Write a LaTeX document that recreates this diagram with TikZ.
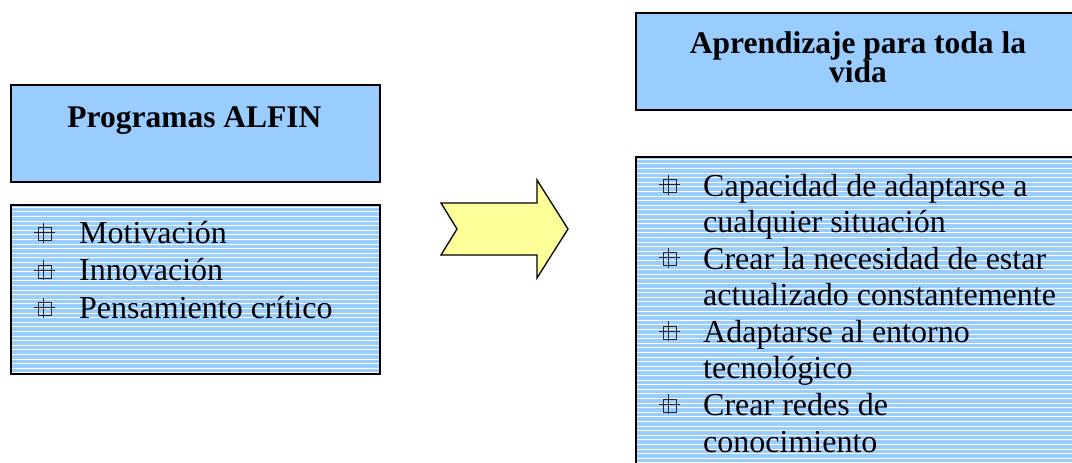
\documentclass[tikz,border=0pt]{standalone}
\usepackage{fontspec}
\setmainfont{Liberation Serif}
\definecolor{boxblue}{HTML}{99CCFF}
\definecolor{arrowyellow}{HTML}{FFFF99}
\tikzset{
  plainbox/.style={draw=black, line width=1.5pt, fill=boxblue, inner sep=0pt, anchor=north west},
  stripebox/.style={plainbox, path picture={
      \foreach \i in {0,...,80}
        \fill[white] ([yshift={-2pt-\i*4.6pt}]path picture bounding box.north west) rectangle ++(600pt,-1.1pt);
    }},
  titletext/.style={font=\fontsize{31.5}{29}\selectfont\bfseries, inner sep=0pt, anchor=base},
  itemtext/.style={font=\fontsize{32}{36}\selectfont, inner sep=0pt, anchor=base west},
  bul/.pic={
    \draw[line width=0.9pt, black!85] (-6.5pt,-6.5pt) rectangle (6.5pt,6.5pt);
    \draw[line width=0.9pt, black!85] (-11pt,1.5pt) -- (10pt,1.5pt);
    \draw[line width=0.9pt, black!85] (-1.5pt,-8.5pt) -- (-1.5pt,11.5pt);
  },
  bigarrow/.style={draw=black, line width=1.3pt, fill=arrowyellow, line join=miter}
}
\begin{document}
\begin{tikzpicture}[x=1pt,y=-1pt]
\useasboundingbox (0,0) rectangle (1072,463);
\clip (0,0) rectangle (1072,463);

% left boxes
\node[plainbox, minimum width=369pt, minimum height=97pt] (ltitle) at (10,84) {};
\node[stripebox, minimum width=369pt, minimum height=169pt] (llist) at (10,204) {};

% right boxes
\node[plainbox, minimum width=446pt, minimum height=97pt] (rtitle) at (635,12) {};
\node[stripebox, minimum width=446pt, minimum height=330pt] (rlist) at (635,156) {};

% arrow
\draw[bigarrow] (441,203) -- (537,203) -- (537,180) -- (568,229) -- (537,278) -- (537,255) -- (441,255) -- (457,229) -- cycle;

% titles
\node[titletext] (lt1) at (194.5,127) {Programas ALFIN};
\node[titletext] (rt1) at (858,53) {Aprendizaje para toda la};
\node[titletext] (rt2) at (858,82) {vida};

% left items
\pic at (45.3,234) {bul};
\node[itemtext] (l1) at (79,243) {Motivación};
\pic at (45.3,271.5) {bul};
\node[itemtext] (l2) at (79,280.7) {Innovación};
\pic at (45.3,309) {bul};
\node[itemtext] (l3) at (79,318) {Pensamiento crítico};

% right items
\pic at (670,186.3) {bul};
\node[itemtext] (r1a) at (703,196) {Capacidad de adaptarse a};
\node[itemtext] (r1b) at (703,232.6) {cualquier situación};
\pic at (670,259.4) {bul};
\node[itemtext] (r2a) at (703,269.1) {Crear la necesidad de estar};
\node[itemtext] (r2b) at (703,305.7) {actualizado constantemente};
\pic at (670,332.6) {bul};
\node[itemtext] (r3a) at (703,342.3) {Adaptarse al entorno};
\node[itemtext] (r3b) at (703,378.9) {tecnológico};
\pic at (670,405.7) {bul};
\node[itemtext] (r4a) at (703,415.4) {Crear redes de};
\node[itemtext] (r4b) at (703,452) {conocimiento};
\end{tikzpicture}
\end{document}
